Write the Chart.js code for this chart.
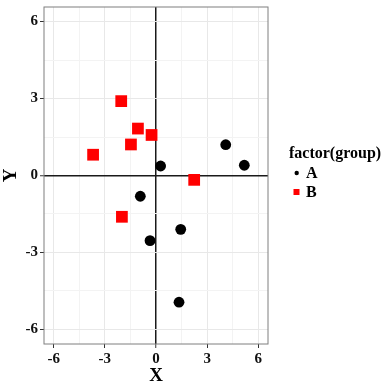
<!DOCTYPE html>
<html>
<head>
<meta charset="utf-8">
<script src="https://cdn.jsdelivr.net/npm/chart.js@4/dist/chart.umd.min.js"></script>
<style>
  html, body { margin: 0; padding: 0; background: #fff; overflow: hidden; }
  #wrap { width: 383px; height: 387px; position: relative; top: -4px; }
</style>
</head>
<body>
<div id="wrap"><canvas id="scatterChart"></canvas></div>
<script>
// data
const groups = ["A", "B"];
const groupAX = [0.27, 4.09, 5.18, -0.92, 1.45, -0.35, 1.35];
const groupAY = [0.37, 1.20, 0.40, -0.81, -2.10, -2.54, -4.94];
const groupBX = [-2.04, -1.06, -0.26, -1.47, -3.69, 2.24, -2.00];
const groupBY = [2.90, 1.83, 1.58, 1.21, 0.81, -0.17, -1.61];
const tickValues = [-6, -4.5, -3, -1.5, 0, 1.5, 3, 4.5, 6];
const tickLabels = ["-6", "-3", "0", "3", "6"];

const serif = "'Liberation Serif', 'Times New Roman', serif";
const shift = 4; // canvas sits 4px above the page top

function toPoints(xs, ys) {
  return xs.map((x, i) => ({ x: x, y: ys[i] }));
}

function gridColor(ctx) {
  const v = ctx.tick ? ctx.tick.value : null;
  if (v === 0) return "#1a1a1a";
  return tickLabels.includes(String(v)) ? "#e8e8e8" : "#f3f3f3";
}
function gridWidth(ctx) {
  return ctx.tick && ctx.tick.value === 0 ? 1.5 : 1;
}
function tickMarkColor(ctx) {
  const v = ctx.tick ? ctx.tick.value : null;
  return tickLabels.includes(String(v)) ? "#333" : "rgba(0,0,0,0)";
}

function axis(title, fitSize, isX) {
  return {
    type: "linear",
    min: -6.57,
    max: 6.57,
    afterBuildTicks: s => { s.ticks = tickValues.map(v => ({ value: v })); },
    afterFit: s => { if (isX) s.height = fitSize; else s.width = fitSize; },
    border: { display: false },
    grid: {
      color: gridColor,
      lineWidth: gridWidth,
      tickColor: tickMarkColor,
      tickLength: 4,
      tickWidth: 1
    },
    ticks: {
      autoSkip: false,
      maxRotation: 0,
      padding: 2,
      color: "#111",
      font: { family: serif, size: 15, weight: "bold" },
      callback: v => tickLabels.includes(String(v)) ? String(v) : ""
    },
    title: {
      display: true,
      text: title,
      color: "#000",
      font: { family: serif, size: 19, weight: "bold", lineHeight: isX ? 0.7 : 1 },
      padding: { top: isX ? 0 : 2, bottom: 0 }
    }
  };
}

// panel border + legend (ggplot style)
const panelAndLegend = {
  id: "panelAndLegend",
  afterDatasetsDraw(chart) {
    const { ctx, chartArea: a } = chart;
    ctx.save();
    ctx.strokeStyle = "#7f7f7f";
    ctx.lineWidth = 1;
    ctx.strokeRect(a.left, a.top, a.right - a.left, a.bottom - a.top);

    ctx.fillStyle = "#000";
    ctx.textBaseline = "middle";
    ctx.textAlign = "left";
    ctx.font = "bold 16px " + serif;
    ctx.fillText("factor(group)", 289, 154 + shift);

    chart.data.datasets.forEach((ds, i) => {
      const y = 173 + i * 19 + shift;
      ctx.fillStyle = ds.backgroundColor;
      if (ds.pointStyle === "rect") {
        ctx.fillRect(293.5, y - 3, 6, 6);
      } else {
        ctx.beginPath();
        ctx.arc(296.7, y, 2.2, 0, Math.PI * 2);
        ctx.fill();
      }
      ctx.fillStyle = "#000";
      ctx.fillText(ds.label, 306, y + 1);
    });
    ctx.restore();
  }
};

new Chart(document.getElementById("scatterChart").getContext("2d"), {
  type: "scatter",
  data: {
    datasets: [
      {
        label: groups[0],
        data: toPoints(groupAX, groupAY),
        pointStyle: "circle",
        pointRadius: 5.4,
        pointHoverRadius: 5.4,
        backgroundColor: "#000000",
        borderColor: "#000000",
        borderWidth: 0
      },
      {
        label: groups[1],
        data: toPoints(groupBX, groupBY),
        pointStyle: "rect",
        pointRadius: 8.3,
        pointHoverRadius: 8.3,
        backgroundColor: "#ff0000",
        borderColor: "#ff0000",
        borderWidth: 0
      }
    ]
  },
  options: {
    responsive: true,
    maintainAspectRatio: false,
    animation: false,
    layout: { padding: { left: 0, top: 0, right: 115, bottom: 0 } },
    plugins: {
      legend: { display: false },
      tooltip: { enabled: false }
    },
    scales: {
      x: axis("X", 39, true),
      y: axis("Y", 44, false)
    }
  },
  plugins: [panelAndLegend]
});
</script>
</body>
</html>
